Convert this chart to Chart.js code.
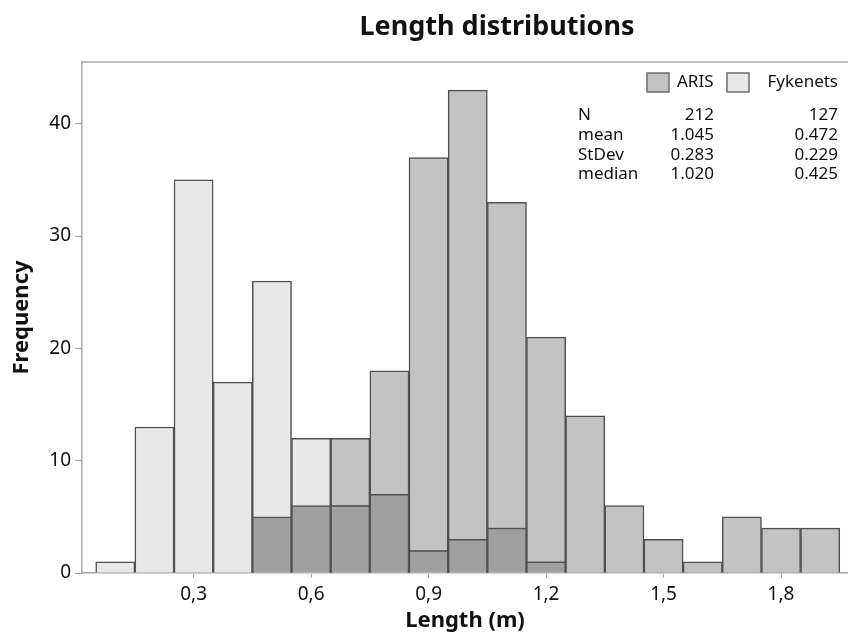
<!DOCTYPE html>
<html>
<head>
<meta charset="utf-8">
<script src="https://cdn.jsdelivr.net/npm/chart.js@4.4.1/dist/chart.umd.min.js"></script>
<style>
  body { margin: 0; background: #fff; }
  #lengthChart { display: block; }
</style>
</head>
<body>
<canvas id="lengthChart" width="848" height="640"></canvas>
<script>
// bin centres (m), bin width 0.1
const binCenters = [0.1, 0.2, 0.3, 0.4, 0.5, 0.6, 0.7, 0.8, 0.9, 1.0, 1.1, 1.2, 1.3, 1.4, 1.5, 1.6, 1.7, 1.8, 1.9];
const arisCounts = [0, 0, 0, 0, 5, 6, 12, 18, 37, 43, 33, 21, 14, 6, 3, 1, 5, 4, 4];
const fykeCounts = [1, 13, 35, 17, 26, 12, 6, 7, 2, 3, 4, 1, 0, 0, 0, 0, 0, 0, 0];

const xTickValues = [0.3, 0.6, 0.9, 1.2, 1.5, 1.8];
const xTickLabels = ['0,3', '0,6', '0,9', '1,2', '1,5', '1,8'];
const yTickValues = [0, 10, 20, 30, 40];

const seriesNames = ['ARIS', 'Fykenets'];
const statNames = ['N', 'mean', 'StDev', 'median'];
const arisStats = ['212', '1.045', '0.283', '1.020'];
const fykeStats = ['127', '0.472', '0.229', '0.425'];

const FONT = '"Noto Sans", "Open Sans", sans-serif';
const lightGray = '#e8e8e8';
const midGray = '#c3c3c3';
const darkGray = '#a0a0a0';
const edgeGray = '#505050';
const axisGray = '#a8a8a8';

// turn counts into {x, y} points, dropping empty bins
function toPoints(counts) {
    let pts = [];
    counts.forEach((c, i) => {
        if (c > 0) pts.push({ x: binCenters[i], y: c });
    });
    return pts;
}

let overlapCounts = arisCounts.map((c, i) => Math.min(c, fykeCounts[i]));

// draws title, axis titles, frame top line, legend and stats box
const decorations = {
    id: 'decorations',
    afterDraw(chart) {
        let ctx = chart.ctx;
        let area = chart.chartArea;
        ctx.save();

        // top frame line
        ctx.strokeStyle = axisGray;
        ctx.lineWidth = 1.5;
        ctx.beginPath();
        ctx.moveTo(area.left, area.top);
        ctx.lineTo(area.right, area.top);
        ctx.stroke();

        ctx.fillStyle = '#111';
        ctx.textBaseline = 'alphabetic';
        ctx.textAlign = 'center';
        ctx.font = 'bold 27px ' + FONT;
        ctx.fillText('Length distributions', 497, 35);

        ctx.textBaseline = 'middle';
        ctx.font = 'bold 22px ' + FONT;
        ctx.fillText('Length (m)', (area.left + area.right) / 2, 621);

        ctx.save();
        ctx.translate(22, (area.top + area.bottom) / 2);
        ctx.rotate(-Math.PI / 2);
        ctx.fillText('Frequency', 0, 0);
        ctx.restore();

        // legend
        ctx.lineWidth = 1.5;
        ctx.strokeStyle = '#6e6e6e';
        ctx.fillStyle = midGray;
        ctx.fillRect(647, 73, 22, 19);
        ctx.strokeRect(647, 73, 22, 19);
        ctx.fillStyle = lightGray;
        ctx.fillRect(727, 73, 22, 19);
        ctx.strokeRect(727, 73, 22, 19);

        ctx.fillStyle = '#111';
        ctx.textBaseline = 'alphabetic';
        ctx.font = '17px ' + FONT;
        ctx.textAlign = 'left';
        ctx.fillText(seriesNames[0], 677, 87);
        ctx.textAlign = 'right';
        ctx.fillText(seriesNames[1], 838, 87);

        // stats table
        statNames.forEach((name, i) => {
            let y = 120 + i * 19.8;
            ctx.textAlign = 'left';
            ctx.fillText(name, 578, y);
            ctx.textAlign = 'right';
            ctx.fillText(arisStats[i], 714, y);
            ctx.fillText(fykeStats[i], 838, y);
        });

        ctx.restore();
    }
};

let ctx = document.getElementById('lengthChart').getContext('2d');

new Chart(ctx, {
    type: 'bar',
    data: {
        datasets: [
            {
                label: 'overlap',
                data: toPoints(overlapCounts),
                backgroundColor: darkGray
            },
            {
                label: seriesNames[1],
                data: toPoints(fykeCounts),
                backgroundColor: lightGray
            },
            {
                label: seriesNames[0],
                data: toPoints(arisCounts),
                backgroundColor: midGray
            }
        ]
    },
    options: {
        responsive: false,
        animation: false,
        layout: { padding: { top: 62, right: 0, left: 0, bottom: 0 } },
        datasets: {
            bar: {
                grouped: false,
                barPercentage: 1,
                categoryPercentage: 1,
                borderColor: edgeGray,
                borderWidth: 1.5
            }
        },
        plugins: {
            legend: { display: false },
            tooltip: { enabled: false }
        },
        scales: {
            x: {
                type: 'linear',
                offset: false,
                min: 0.015,
                max: 1.971,
                grid: { offset: false, drawOnChartArea: false, drawTicks: true, tickLength: 5, color: axisGray },
                border: { display: true, color: axisGray, width: 1.5 },
                ticks: {
                    padding: 5,
                    color: '#111',
                    font: { family: FONT, size: 19 },
                    maxRotation: 0,
                    callback: (value) => {
                        let idx = xTickValues.findIndex(v => Math.abs(v - value) < 1e-6);
                        return idx === -1 ? '' : xTickLabels[idx];
                    }
                },
                afterBuildTicks: (scale) => {
                    scale.ticks = xTickValues.map(v => ({ value: v }));
                },
                afterFit: (scale) => { scale.height = 67; }
            },
            y: {
                min: 0,
                max: 45.5,
                grid: { drawOnChartArea: false, drawTicks: true, tickLength: 7, color: axisGray },
                border: { display: true, color: axisGray, width: 1.5 },
                ticks: {
                    padding: 4,
                    color: '#111',
                    font: { family: FONT, size: 19 }
                },
                afterBuildTicks: (scale) => {
                    scale.ticks = yTickValues.map(v => ({ value: v }));
                },
                afterFit: (scale) => { scale.width = 82; }
            }
        }
    },
    plugins: [decorations]
});
</script>
</body>
</html>
